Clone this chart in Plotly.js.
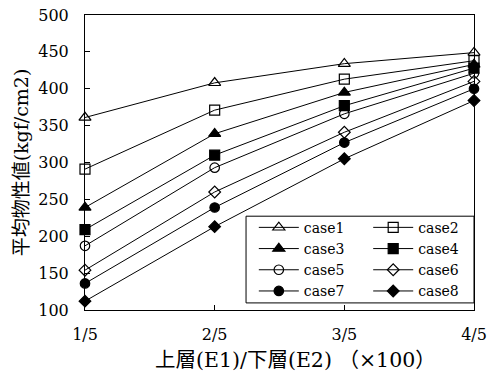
<!DOCTYPE html>
<html>
<head>
<meta charset="utf-8">
<script src="https://cdn.plot.ly/plotly-3.0.1.min.js"></script>
<style>html,body{margin:0;padding:0;background:#fff;}#chart{width:496px;height:372px;}</style>
</head>
<body>
<div id="chart"></div>
<script>
var xLabels = ['1/5', '2/5', '3/5', '4/5'];
var case1 = [361, 408, 434, 449];
var case2 = [291, 371, 413, 438];
var case3 = [239, 339, 395, 433];
var case4 = [209, 310, 377, 428];
var case5 = [187, 293, 366, 421];
var case6 = [154, 260, 341, 410];
var case7 = [136, 239, 327, 400];
var case8 = [112, 213, 305, 384];
var seriesNames = ['case1','case2','case3','case4','case5','case6','case7','case8'];
var seriesValues = [case1, case2, case3, case4, case5, case6, case7, case8];
var symbols = ['triangle-up-open','square-open','triangle-up','square','circle-open','diamond-open','circle','diamond'];
var xTitle = '上層(E1)/下層(E2) （×100）';
var yTitle = '平均物性値(kgf/cm2)';

var FONT = '"DejaVu Serif", "Noto Sans CJK JP", serif';
function symSize(s) {
  if (s.indexOf('triangle') === 0) return 10.5;
  if (s.indexOf('square') === 0) return 10;
  if (s.indexOf('circle') === 0) return 9.5;
  return 9;
}
var traces = seriesValues.map(function(v, i){
  return {
    x: xLabels, y: v, name: seriesNames[i], type: 'scatter', mode: 'lines+markers',
    line: {color: '#000', width: 1},
    marker: {symbol: symbols[i], size: symSize(symbols[i]), color: '#000', line: {color: '#000', width: 1.2}},
    cliponaxis: false,
    legend: (i % 2 === 0) ? 'legend' : 'legend2'
  };
});

var legendCommon = {
  orientation: 'v', xanchor: 'left', yanchor: 'top', y: 0.333,
  bgcolor: 'rgba(0,0,0,0)', borderwidth: 0,
  font: {family: FONT, size: 14, color: '#000'},
  tracegroupgap: 0, itemwidth: 40
};

var layout = {
  width: 496, height: 372,
  margin: {l: 85, r: 22, t: 15, b: 62},
  paper_bgcolor: '#fff', plot_bgcolor: '#fff',
  font: {family: FONT, color: '#000', size: 16},
  showlegend: true,
  legend: Object.assign({}, legendCommon, {x: 0.434}),
  legend2: Object.assign({}, legendCommon, {x: 0.728}),
  shapes: [{
    type: 'rect', xref: 'paper', yref: 'paper', x0: 0.414, x1: 1, y0: 0.024, y1: 0.318,
    fillcolor: '#fff', line: {color: '#000', width: 1}, layer: 'above'
  }],
  annotations: [{
    text: xTitle, xref: 'paper', yref: 'paper', x: 0.54, y: -0.169,
    xanchor: 'center', yanchor: 'middle', showarrow: false,
    font: {family: FONT, size: 20.5, color: '#000'}
  }],
  xaxis: {
    type: 'category', range: [0, 3], showgrid: false, zeroline: false,
    showline: true, linecolor: '#000', linewidth: 1, mirror: true,
    ticks: 'inside', ticklen: 5, tickcolor: '#000',
    tickfont: {family: FONT, size: 16}, ticklabelstandoff: 10
  },
  yaxis: {
    range: [100, 500], dtick: 50, showgrid: false, zeroline: false,
    showline: true, linecolor: '#000', linewidth: 1, mirror: true,
    ticks: 'inside', ticklen: 5, tickcolor: '#000',
    tickfont: {family: FONT, size: 16}, ticklabelstandoff: 12,
    title: {text: yTitle, font: {family: FONT, size: 19}, standoff: 4}
  }
};

Plotly.newPlot('chart', traces, layout, {displayModeBar: false, staticPlot: true});
</script>
</body>
</html>
